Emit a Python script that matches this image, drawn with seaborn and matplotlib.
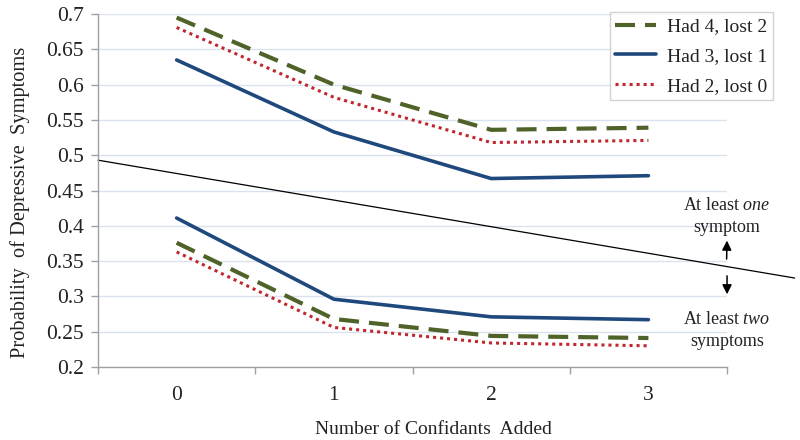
import matplotlib
matplotlib.use("Agg")
import matplotlib.pyplot as plt
import seaborn as sns
import pandas as pd

confidants = [0, 1, 2, 3]
series_names = ["Had 4, lost 2", "Had 3, lost 1", "Had 2, lost 0"]
# at least one symptom (upper set)
one_had4 = [0.695, 0.600, 0.536, 0.539]
one_had3 = [0.635, 0.533, 0.467, 0.471]
one_had2 = [0.681, 0.582, 0.518, 0.521]
# at least two symptoms (lower set)
two_had4 = [0.376, 0.268, 0.244, 0.241]
two_had3 = [0.411, 0.296, 0.271, 0.267]
two_had2 = [0.363, 0.256, 0.234, 0.230]
# threshold line endpoints
thresh_x = [-0.5, 3.93]
thresh_y = [0.493, 0.326]

sns.set_theme(style="white")
plt.rcParams['font.family'] = ['Liberation Serif', 'DejaVu Serif']
plt.rcParams['mathtext.fontset'] = 'custom'
plt.rcParams['mathtext.rm'] = 'Liberation Serif'
plt.rcParams['mathtext.it'] = 'Liberation Serif:italic'

colors = {"Had 4, lost 2": "#4F6228", "Had 3, lost 1": "#1F497D", "Had 2, lost 0": "#C0272D"}
dashes = {"Had 4, lost 2": (4.8, 2.4), "Had 3, lost 1": "", "Had 2, lost 0": (1.0, 1.3)}
widths = {"Had 4, lost 2": 3.0, "Had 3, lost 1": 2.6, "Had 2, lost 0": 2.2}

rows = []
for name, vals in zip(series_names, [one_had4, one_had3, one_had2]):
    for x, v in zip(confidants, vals):
        rows.append({"x": x, "y": v, "series": name, "group": "one"})
for name, vals in zip(series_names, [two_had4, two_had3, two_had2]):
    for x, v in zip(confidants, vals):
        rows.append({"x": x, "y": v, "series": name, "group": "two"})
df = pd.DataFrame(rows)

fig = plt.figure(figsize=(8, 4.4), dpi=100)
ax = fig.add_axes([0.1225, 0.166, 0.9088 - 0.1225, 0.968 - 0.166])

handles = {}
for grp in ["one", "two"]:
    for name in series_names:
        sub = df[(df.group == grp) & (df.series == name)]
        sns.lineplot(data=sub, x="x", y="y", ax=ax, color=colors[name],
                     linewidth=widths[name], legend=False, estimator=None)
        line = ax.lines[-1]
        if dashes[name]:
            line.set_dashes(dashes[name])
        line.set_dash_capstyle("butt")
        if grp == "one":
            handles[name] = line

ax.plot(thresh_x, thresh_y, color="black", linewidth=0.9, clip_on=False)

ax.set_xlim(-0.5, 3.5)
ax.set_ylim(0.2, 0.7)
ax.set_yticks([0.2, 0.25, 0.3, 0.35, 0.4, 0.45, 0.5, 0.55, 0.6, 0.65, 0.7])
ax.set_yticklabels(["0.2", "0.25", "0.3", "0.35", "0.4", "0.45", "0.5", "0.55", "0.6", "0.65", "0.7"])
ax.set_xticks(confidants)
ax.set_xticklabels([str(c) for c in confidants])
ax.set_xticks([-0.5, 0.5, 1.5, 2.5, 3.5], minor=True)
ax.tick_params(axis="x", which="major", length=0, pad=14, labelsize=15.5, colors="#222222")
ax.tick_params(axis="x", which="minor", length=5, width=1, color="#A0A0A0", direction="out", bottom=True)
ax.tick_params(axis="y", length=5, width=1, color="#A0A0A0", direction="out", left=True, labelsize=15.5, colors="#222222", pad=5)
ax.yaxis.grid(True, color="#D9E2EE", linewidth=1)
ax.set_axisbelow(True)
for s in ["top", "right"]:
    ax.spines[s].set_visible(False)
for s in ["left", "bottom"]:
    ax.spines[s].set_color("#A0A0A0")
    ax.spines[s].set_linewidth(1)

ax.set_xlabel("Number of Confidants  Added", fontsize=14, color="#222222")
ax.set_ylabel("Probability  of Depressive  Symptoms", fontsize=14.7, color="#222222")
ax.xaxis.set_label_coords(0.533, -0.153)
ax.yaxis.set_label_coords(-0.108, 0.465)

leg = fig.legend([handles[n] for n in series_names], series_names,
                 loc="upper left", bbox_to_anchor=(0.762, 0.973), borderaxespad=0,
                 fontsize=14, frameon=True, fancybox=False, handlelength=2.1,
                 borderpad=0.3, labelspacing=0.62, handletextpad=0.55)
leg.get_frame().set_edgecolor("#C8C8C8")
leg.get_frame().set_linewidth(1)
for t in leg.get_texts():
    t.set_color("#222222")

# annotations (in data coordinates)
ax.text(3.5, 0.429, "At least $\\it{one}$", ha="center", va="center", fontsize=13,
        color="#222222", clip_on=False)
ax.text(3.5, 0.398, "symptom", ha="center", va="center", fontsize=13, color="#222222", clip_on=False)
ax.annotate("", xy=(3.5, 0.383), xytext=(3.497, 0.349), xycoords="data",
            arrowprops=dict(arrowstyle="-|>", color="black", lw=1.1, mutation_scale=14),
            annotation_clip=False)
ax.annotate("", xy=(3.5, 0.299), xytext=(3.5, 0.333), xycoords="data",
            arrowprops=dict(arrowstyle="-|>", color="black", lw=1.1, mutation_scale=14),
            annotation_clip=False)
ax.text(3.5, 0.2666, "At least $\\it{two}$", ha="center", va="center", fontsize=13,
        color="#222222", clip_on=False)
ax.text(3.5, 0.2354, "symptoms", ha="center", va="center", fontsize=13, color="#222222", clip_on=False)

fig.savefig("out.png", dpi=100)
